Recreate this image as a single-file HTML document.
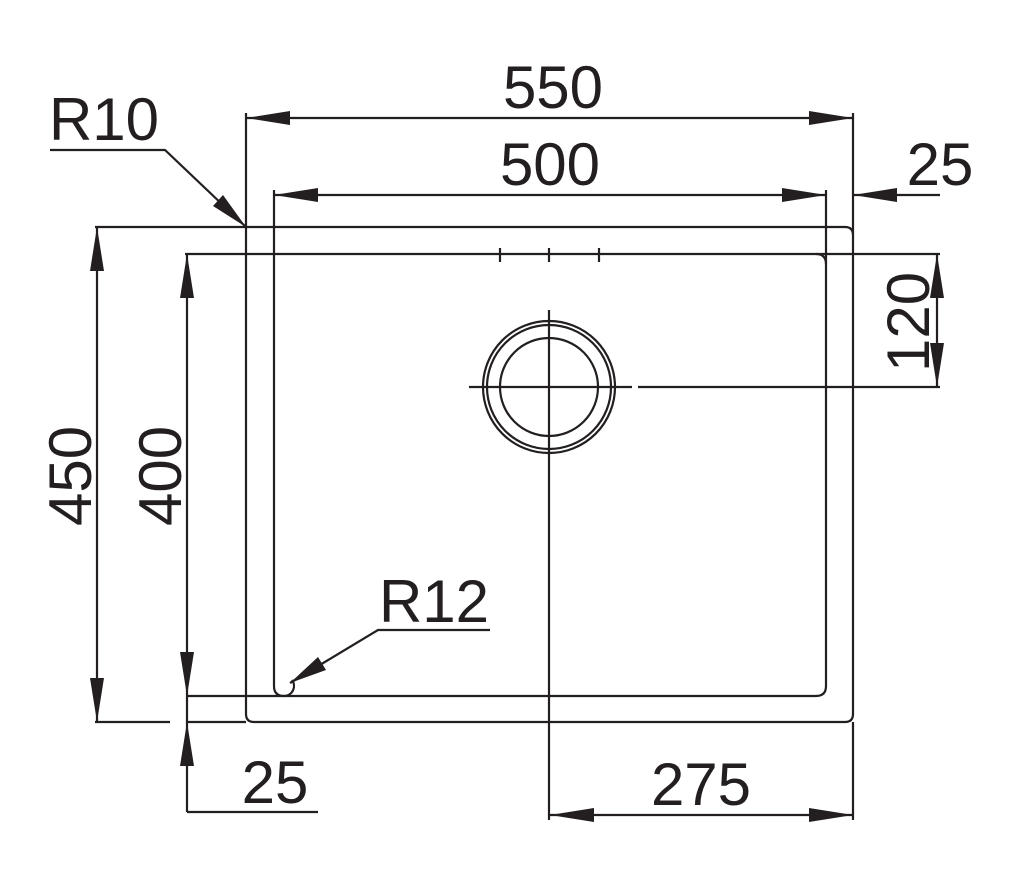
<!DOCTYPE html>
<html><head><meta charset="utf-8"><style>
html,body{margin:0;padding:0;background:#fff;}
svg{display:block}
text{font-family:"Liberation Sans",sans-serif;font-size:60px;fill:#231f20;}
</style></head><body>
<svg width="1024" height="895" viewBox="0 0 1024 895" xmlns="http://www.w3.org/2000/svg">
<g stroke="#231f20" stroke-width="2.2" fill="none">
<path d="M246,113 V714 Q246,722 254,722 H845 Q853,722 853,714 V235 Q853,227 845,227 H95"/>
<line x1="853" y1="113" x2="853" y2="235"/>
<line x1="853" y1="722" x2="853" y2="820"/>
<path d="M274,190 V686 Q274,696 284,696 H816 Q826,696 826,686 V264 Q826,254 816,254 H185"/>
<line x1="826" y1="190" x2="826" y2="264"/>
<line x1="816" y1="254" x2="940" y2="254"/>
<line x1="187" y1="696" x2="284" y2="696"/>
<line x1="95" y1="722" x2="170" y2="722"/>
<line x1="187" y1="722" x2="246" y2="722"/>
<line x1="246" y1="118" x2="853" y2="118"/>
<line x1="274" y1="195" x2="826" y2="195"/>
<line x1="853" y1="195" x2="940" y2="195"/>
<line x1="97" y1="227" x2="97" y2="722"/>
<line x1="187" y1="254" x2="187" y2="812"/>
<line x1="187" y1="812" x2="318" y2="812"/>
<line x1="937" y1="254" x2="937" y2="387"/>
<line x1="638" y1="387" x2="940" y2="387"/>
<line x1="550" y1="815" x2="853" y2="815"/>
<circle cx="549" cy="387" r="66"/>
<circle cx="549" cy="387" r="62"/>
<circle cx="549" cy="387" r="49"/>
<line x1="469" y1="387" x2="632" y2="387"/>
<line x1="549" y1="310" x2="549" y2="820"/>
<line x1="500" y1="248" x2="500" y2="262"/>
<line x1="549" y1="248" x2="549" y2="262"/>
<line x1="599" y1="248" x2="599" y2="262"/>
<polyline points="50,150 165,150 246,227"/>
<polyline points="490,630 378,630 290,683"/>
<path d="M292,680 A10,10 0 0 1 284,696"/>
</g>
<g fill="#231f20">
<polygon points="246,118 290,111 290,125"/>
<polygon points="853,118 809,111 809,125"/>
<polygon points="274,195 318,188 318,202"/>
<polygon points="826,195 782,188 782,202"/>
<polygon points="853,195 897,188 897,202"/>
<polygon points="97,227 90,271 104,271"/>
<polygon points="97,722 90,678 104,678"/>
<polygon points="187,254 180,298 194,298"/>
<polygon points="187,696 180,652 194,652"/>
<polygon points="187,722 180,766 194,766"/>
<polygon points="937,254 930,298 944,298"/>
<polygon points="937,387 930,343 944,343"/>
<polygon points="550,815 594,808 594,822"/>
<polygon points="853,815 809,808 809,822"/>
<polygon points="246,227 213,206 223,195"/>
<polygon points="290,683 318,657 326,670"/>
</g>
<text x="553" y="108" text-anchor="middle">550</text>
<text x="550" y="185" text-anchor="middle">500</text>
<text x="940" y="185" text-anchor="middle">25</text>
<text x="104" y="140" text-anchor="middle">R10</text>
<text x="434" y="622" text-anchor="middle">R12</text>
<text x="275" y="803" text-anchor="middle">25</text>
<text x="701" y="805" text-anchor="middle">275</text>
<text transform="translate(91,476) rotate(-90)" text-anchor="middle">450</text>
<text transform="translate(181,476) rotate(-90)" text-anchor="middle">400</text>
<text transform="translate(929,322) rotate(-90)" text-anchor="middle">120</text>
</svg>
</body></html>
